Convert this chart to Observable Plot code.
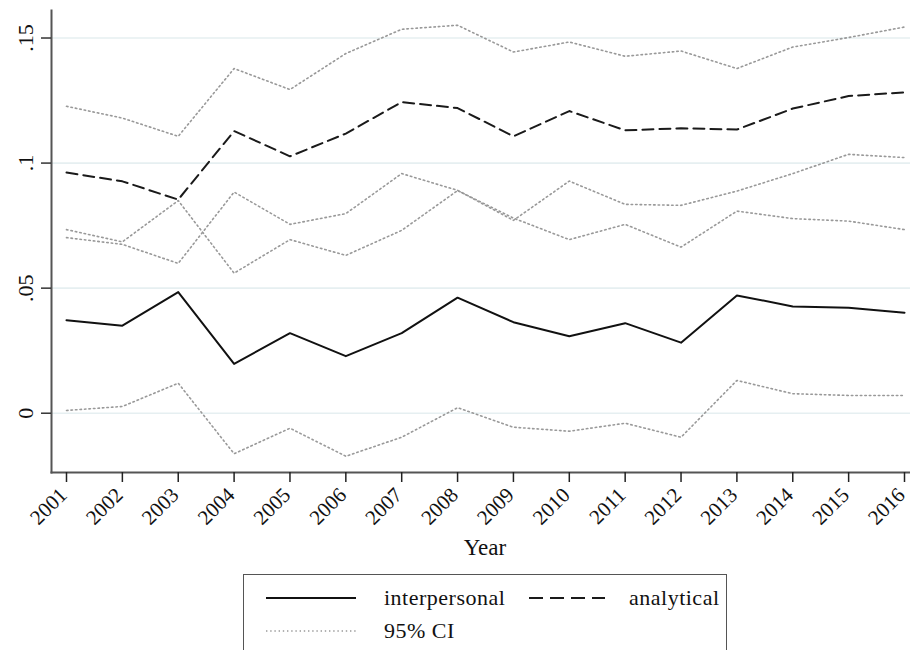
<!DOCTYPE html>
<html>
<head>
<meta charset="utf-8">
<script src="https://cdn.jsdelivr.net/npm/d3@7"></script>
<script src="https://cdn.jsdelivr.net/npm/@observablehq/plot@0.6"></script>
<style>
  html, body { margin: 0; padding: 0; background: #fff; }
  #wrap { position: relative; width: 910px; height: 650px; overflow: hidden; font-family: "Liberation Serif", "DejaVu Serif", serif; }
  #legend { position: absolute; left: 243px; top: 574px; width: 484px; height: 100px; border: 1.5px solid #555; box-sizing: border-box; }
  .lg { position: absolute; font-size: 22px; color: #111; line-height: 1; letter-spacing: 0.5px; }
  .ls { position: absolute; }
</style>
</head>
<body>
<div id="wrap"></div>
<script>
const years = [2001, 2002, 2003, 2004, 2005, 2006, 2007, 2008, 2009, 2010, 2011, 2012, 2013, 2014, 2015, 2016];
const interpersonal = [0.0372, 0.0350, 0.0484, 0.0197, 0.0320, 0.0228, 0.0320, 0.0462, 0.0364, 0.0308, 0.0360, 0.0282, 0.0471, 0.0427, 0.0422, 0.0402];
const interpersonalLo = [0.0011, 0.0027, 0.0120, -0.0162, -0.0060, -0.0172, -0.0096, 0.0022, -0.0056, -0.0072, -0.0040, -0.0096, 0.0131, 0.0078, 0.0071, 0.0071];
const interpersonalHi = [0.0734, 0.0685, 0.0850, 0.0560, 0.0694, 0.0631, 0.0731, 0.0890, 0.0780, 0.0694, 0.0755, 0.0664, 0.0808, 0.0778, 0.0768, 0.0734];
const analytical = [0.0962, 0.0927, 0.0854, 0.1128, 0.1027, 0.1118, 0.1244, 0.1220, 0.1107, 0.1208, 0.1131, 0.1139, 0.1134, 0.1218, 0.1268, 0.1283];
const analyticalLo = [0.0702, 0.0675, 0.0599, 0.0884, 0.0755, 0.0798, 0.0958, 0.0891, 0.0771, 0.0928, 0.0835, 0.0831, 0.0888, 0.0958, 0.1035, 0.1022];
const analyticalHi = [0.1227, 0.1180, 0.1107, 0.1378, 0.1294, 0.1438, 0.1535, 0.1551, 0.1444, 0.1484, 0.1427, 0.1448, 0.1378, 0.1464, 0.1502, 0.1544];
const yTicks = [0, 0.05, 0.1, 0.15];
const yTickLabels = ["0", ".05", ".1", ".15"];
const xLabel = "Year";
const legendLabels = ["interpersonal", "analytical", "95% CI"];

const series = (vals) => years.map((y, i) => ({year: y, v: vals[i]}));
const ciLines = [interpersonalLo, interpersonalHi, analyticalLo, analyticalHi].map(series);

const W = 910, H = 565;
const FONT = "Liberation Serif, DejaVu Serif, serif";

const plot = Plot.plot({
  width: W,
  height: H,
  marginLeft: 51,
  marginRight: 0,
  marginTop: 10,
  marginBottom: H - 472,
  insetLeft: 15,
  insetRight: 6,
  style: {fontFamily: FONT, fontSize: "20px", color: "#111", background: "#fff"},
  x: {domain: [2001, 2016], axis: null},
  y: {domain: [-0.0237, 0.161], axis: null},
  marks: [
    Plot.gridY(yTicks, {stroke: "#e6eff1", strokeOpacity: 1, strokeWidth: 1.6}),
    ...ciLines.map(d => Plot.line(d, {x: "year", y: "v", stroke: "#999", strokeWidth: 1.6, strokeDasharray: "1.5,3"})),
    Plot.line(series(analytical), {x: "year", y: "v", stroke: "#1a1a1a", strokeWidth: 2, strokeDasharray: "11,6"}),
    Plot.line(series(interpersonal), {x: "year", y: "v", stroke: "#111", strokeWidth: 2}),
    Plot.frame({anchor: "left", stroke: "#555", strokeWidth: 2}),
    Plot.frame({anchor: "bottom", stroke: "#555", strokeWidth: 2}),
    Plot.axisY({ticks: yTicks, tickSize: 10, tickFormat: () => "", label: null, stroke: "#333", strokeWidth: 1.5}),
    Plot.axisX({ticks: years, tickSize: 10, tickFormat: () => "", label: null, stroke: "#222", strokeWidth: 1.5}),
    Plot.text(yTicks, {y: d => d, text: (d, i) => yTickLabels[i], frameAnchor: "left", dx: -26, rotate: -90, textAnchor: "middle", lineAnchor: "middle", fill: "#111", fontSize: 22}),
    Plot.text(years, {x: d => d, text: d => String(d), frameAnchor: "bottom", dy: 19, dx: -3, rotate: -45, textAnchor: "end", lineAnchor: "middle", fill: "#111", fontSize: 21}),
    Plot.text([xLabel], {text: d => d, frameAnchor: "bottom", dy: 75, dx: 4, lineAnchor: "middle", fill: "#111", fontSize: 23})
  ]
});

const wrap = document.getElementById("wrap");
wrap.appendChild(plot);

const legend = document.createElement("div");
legend.id = "legend";
legend.innerHTML = `
  <svg class="ls" style="left:20px;top:19px" width="94" height="8"><line x1="2" y1="4" x2="92" y2="4" stroke="#111" stroke-width="2"/></svg>
  <div class="lg" style="left:140px;top:12px">${legendLabels[0]}</div>
  <svg class="ls" style="left:283px;top:19px" width="80" height="8"><line x1="2" y1="4" x2="78" y2="4" stroke="#1a1a1a" stroke-width="2" stroke-dasharray="14,7"/></svg>
  <div class="lg" style="left:385px;top:12px">${legendLabels[1]}</div>
  <svg class="ls" style="left:20px;top:52px" width="94" height="8"><line x1="2" y1="4" x2="92" y2="4" stroke="#999" stroke-width="1.4" stroke-dasharray="1.4,2.8"/></svg>
  <div class="lg" style="left:140px;top:45px">${legendLabels[2]}</div>
`;
wrap.appendChild(legend);
</script>
</body>
</html>
